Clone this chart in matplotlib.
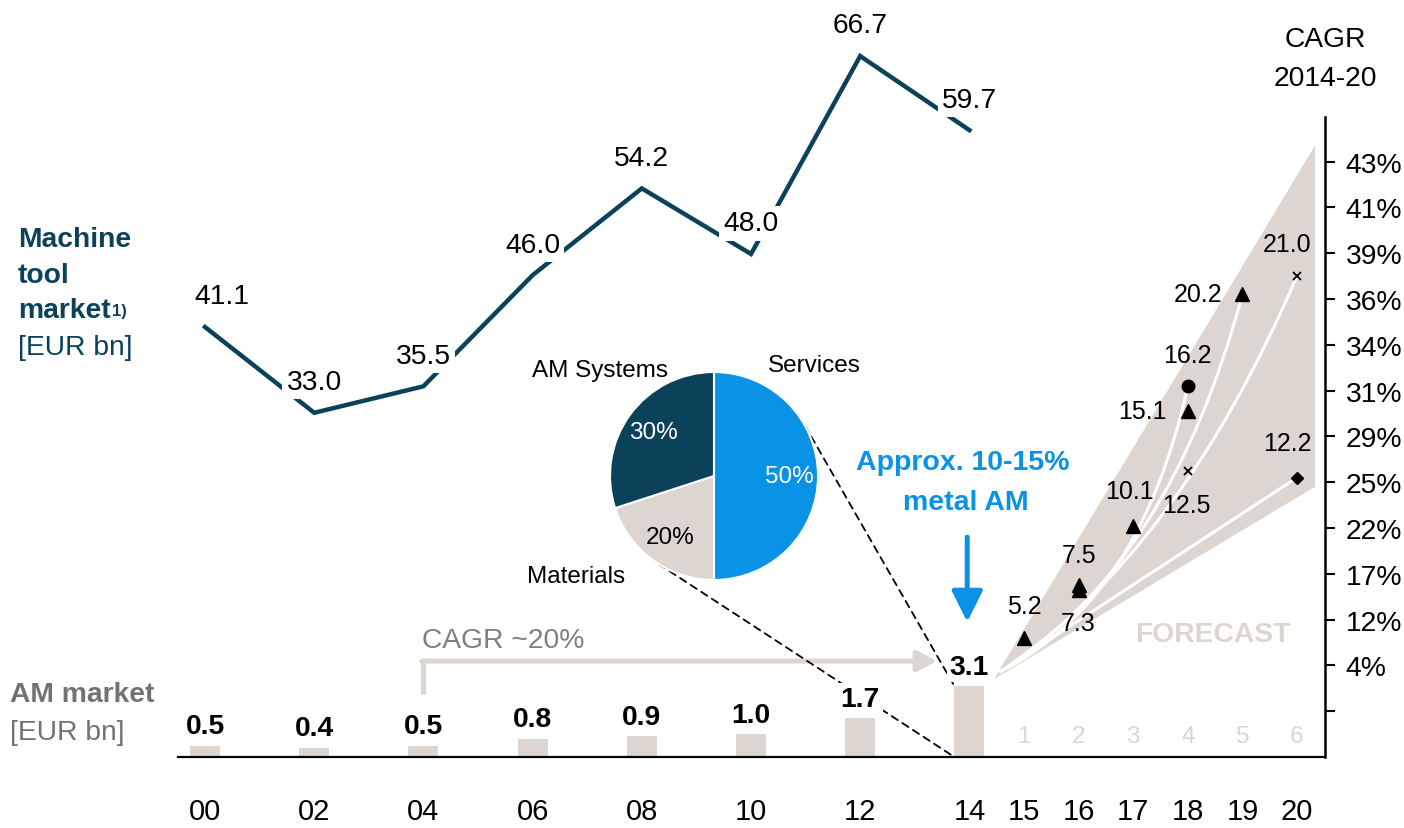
import numpy as np
import matplotlib.pyplot as plt
from matplotlib.patches import Polygon, PathPatch, ConnectionPatch
from matplotlib.path import Path

plt.rcParams['font.family'] = ['Liberation Sans', 'DejaVu Sans']

# AM market history, EUR bn
am_years = [0, 2, 4, 6, 8, 10, 12, 14]
am_values = [0.5, 0.4, 0.5, 0.8, 0.9, 1.0, 1.7, 3.1]

# machine tool market, EUR bn
mt_values = [41.1, 33.0, 35.5, 46.0, 54.2, 48.0, 66.7, 59.7]

# AM market forecasts from different sources
tri_years = [15, 16, 16, 17, 18, 19]
tri_values = [5.2, 7.5, 7.3, 10.1, 15.1, 20.2]
dot_years = [18]
dot_values = [16.2]
cross_years = [18, 20]
cross_values = [12.5, 21.0]
diamond_years = [20]
diamond_values = [12.2]

year_ticks = [0, 2, 4, 6, 8, 10, 12, 14, 15, 16, 17, 18, 19, 20]
year_labels = ['00', '02', '04', '06', '08', '10', '12', '14',
               '15', '16', '17', '18', '19', '20']
forecast_steps = ['1', '2', '3', '4', '5', '6']

# CAGR 2014-20 scale, bottom to top
cagr_labels = ['', '4%', '12%', '17%', '22%', '25%', '29%',
               '31%', '34%', '36%', '39%', '41%', '43%']

pie_labels = ['Services', 'Materials', 'AM Systems']
pie_shares = [50, 20, 30]

DARK = '#0B4259'
BLUE = '#0A93E6'
BEIGE = '#DDD5CF'
GREY = '#767171'
BIG = 20.3
MID = 17.5

W, H = 1404, 829
fig = plt.figure(figsize=(W / 100, H / 100), dpi=100)


def ftext(x, y, s, **kw):
    # place text by pixel position from the top-left corner
    kw.setdefault('va', 'baseline')
    return fig.text(x / W, 1 - y / H, s, **kw)


ax = fig.add_axes([178 / W, 71 / H, 1147 / W, 758 / H])
lx = ax.twinx()
ax.set_xlim(-0.495, 20.513)
ax.set_ylim(0, 33.1)
lx.set_ylim(0.48, 72.09)
lx.axis('off')

for side in ['left', 'top']:
    ax.spines[side].set_visible(False)
ax.spines['bottom'].set_linewidth(1.6)
ax.spines['right'].set_linewidth(1.8)
ax.spines['right'].set_bounds(0, 27.95)
ax.yaxis.tick_right()
ax.set_yticks(np.arange(2, 2 * len(cagr_labels) + 1, 2), cagr_labels)
ax.tick_params(axis='y', right=True, left=False, direction='out', length=7,
               width=1.5, pad=8, labelsize=BIG)
ax.set_xticks(year_ticks, year_labels)
ax.tick_params(axis='x', length=0, pad=29, labelsize=21)

# AM market bars
ax.bar(am_years, am_values, width=0.55, color=BEIGE, zorder=2)
for x, v in zip(am_years, am_values):
    ax.annotate(f'{v:.1f}', (x, v), xytext=(0, 9), textcoords='offset points',
                ha='center', va='baseline', fontsize=BIG, fontweight='bold',
                bbox=dict(boxstyle='square,pad=0.1', fc='white', ec='none'),
                zorder=5)

# machine tool market line
lx.plot(am_years, mt_values, color=DARK, lw=3.2, solid_joinstyle='miter', zorder=2)
for i, (x, v) in enumerate(zip(am_years, mt_values)):
    dx = 12 if i == 0 else 0
    lx.annotate(f'{v:.1f}', (x, v), xytext=(dx, 22), textcoords='offset points',
                ha='center', va='center', fontsize=BIG,
                bbox=dict(boxstyle='square,pad=0.15', fc='white', ec='none'),
                zorder=4)

# forecast fan with scenario curves
ax.add_patch(Polygon([(14.45, 3.4), (20.33, 26.7), (20.33, 11.8)],
                     closed=True, color=BEIGE, lw=0, zorder=1))


def bend(p0, p1, a, b):
    c = (p0[0] + a * (p1[0] - p0[0]), p0[1] + b * (p1[1] - p0[1]))
    return Path([p0, c, p1], [Path.MOVETO, Path.CURVE3, Path.CURVE3])


start = (14.55, 3.7)
for end, a, b in [((dot_years[0], dot_values[0]), 0.75, 0.25),
                  ((tri_years[-1], tri_values[-1]), 0.7, 0.28),
                  ((cross_years[-1], cross_values[-1]), 0.6, 0.3),
                  ((diamond_years[0], diamond_values[0]), 0.5, 0.5)]:
    ax.add_patch(PathPatch(bend(start, end, a, b), fill=False,
                           ec='white', lw=2.2, zorder=1.5))

ax.plot(tri_years, tri_values, '^', color='black', ms=9.5, ls='none', zorder=3)
ax.plot(dot_years, dot_values, 'o', color='black', ms=9, ls='none', zorder=3)
ax.plot(cross_years, cross_values, 'x', color='black', ms=6, mew=1.3, ls='none', zorder=3)
ax.plot(diamond_years, diamond_values, 'D', color='black', ms=6.6, ls='none', zorder=3)

fc_x = tri_years + dot_years + cross_years + diamond_years
fc_v = tri_values + dot_values + cross_values + diamond_values
fc_off = [(0, 23), (0, 22), (0, -24), (-3, 25), (-33, 0), (-32, 0),
          (0, 22), (-1, -25), (-7, 23), (-7, 25)]
for x, v, off in zip(fc_x, fc_v, fc_off):
    ax.annotate(f'{v:.1f}', (x, v), xytext=off, textcoords='offset points',
                ha='center', va='center', fontsize=18, zorder=4)

for x, s in zip(year_ticks[-6:], forecast_steps):
    ax.annotate(s, (x, 0), xytext=(0, 15), textcoords='offset points',
                ha='center', va='center', fontsize=MID, color=BEIGE)
ax.text(18.46, 5.37, 'FORECAST', ha='center', va='center', fontsize=BIG,
        fontweight='bold', color=BEIGE, zorder=2)

# CAGR ~20% arrow over the history bars
ax.plot([am_years[2], am_years[2]], [2.75, 4.19], color=BEIGE, lw=3.6,
        solid_capstyle='butt', zorder=2)
ax.annotate('', xy=(13.41, 4.19), xytext=(am_years[2] - 0.03, 4.19),
            arrowprops=dict(arrowstyle='-|>,head_length=0.6,head_width=0.31',
                            mutation_scale=20, color=BEIGE, lw=3.6,
                            shrinkA=0, shrinkB=0), zorder=2)

# metal AM pointer
ax.annotate('', xy=(13.96, 5.9), xytext=(13.96, 9.6),
            arrowprops=dict(arrowstyle='-|>,head_length=0.94,head_width=0.47',
                            mutation_scale=20, color=BLUE, lw=3.6,
                            shrinkA=0, shrinkB=0), zorder=3)

# AM market split
pax = fig.add_axes([584 / W, (829 - 607) / H, 260 / W, 260 / H])
wedges, _, pcts = pax.pie(pie_shares, colors=[BLUE, BEIGE, DARK], startangle=90,
                          counterclock=False, autopct='%d%%', pctdistance=0.72,
                          wedgeprops=dict(edgecolor='white', linewidth=1.5),
                          textprops=dict(fontsize=MID))
for t, c in zip(pcts, ['white', 'black', 'white']):
    t.set_color(c)
for s, (px, py) in zip(pie_labels, [(0.966, 1.01), (-1.327, -1.02), (-1.096, 0.96)]):
    pax.text(px, py, s, ha='center', va='baseline', fontsize=MID)

for ang, yb in [(29, am_values[-1]), (238, 0)]:
    con = ConnectionPatch(xyA=(np.cos(np.radians(ang)), np.sin(np.radians(ang))),
                          coordsA=pax.transData, xyB=(am_years[-1] - 0.275, yb),
                          coordsB=ax.transData, ls=(0, (4, 3)), lw=1.3,
                          color='black', zorder=3)
    ax.add_artist(con)

# side and header labels
ftext(18, 247, 'Machine', fontsize=BIG, fontweight='bold', color=DARK)
ftext(18, 283, 'tool', fontsize=BIG, fontweight='bold', color=DARK)
mk = ftext(18, 318, 'market', fontsize=BIG, fontweight='bold', color=DARK)
ax.annotate('1)', xy=(1, 1), xycoords=mk, xytext=(1, -4), textcoords='offset points',
            ha='left', va='top', fontsize=12, fontweight='bold', color=DARK,
            annotation_clip=False)
ftext(18, 355, '[EUR bn]', fontsize=BIG, color=DARK)

ftext(10, 702, 'AM market', fontsize=BIG, fontweight='bold', color=GREY)
ftext(10, 740, '[EUR bn]', fontsize=BIG, color=GREY)

ftext(1325, 47, 'CAGR', ha='center', fontsize=BIG)
ftext(1325, 86, '2014-20', ha='center', fontsize=BIG)

ftext(422, 648, 'CAGR ~20%', fontsize=BIG, color='#7F7F7F')
ftext(963, 470, 'Approx. 10-15%', ha='center', fontsize=20.5, fontweight='bold',
      color=BLUE)
ftext(966, 510, 'metal AM', ha='center', fontsize=20.5, fontweight='bold',
      color=BLUE)

fig.savefig('out.png', dpi=100)
